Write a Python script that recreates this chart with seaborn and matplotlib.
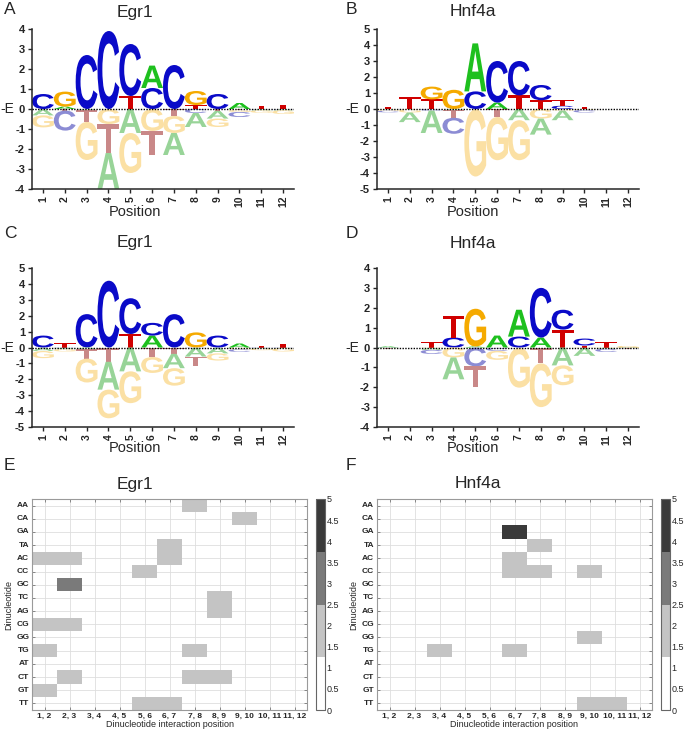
import numpy as np
import pandas as pd
import matplotlib
matplotlib.use("Agg")
import matplotlib.pyplot as plt
import matplotlib.transforms as mtransforms
from matplotlib.textpath import TextPath
from matplotlib.patches import PathPatch
from matplotlib.font_manager import FontProperties
from matplotlib.colors import ListedColormap
import seaborn as sns

positions = list(range(1, 13))

# energy logo values, signed: > 0 stacks above the line, < 0 stacks below
# A - Egr1
a_A = [-0.30, 0.12, -0.05, -1.80, -1.20, 1.12, -1.10, -0.70, -0.38, 0.30, -0.05, -0.05]
a_C = [0.75, -1.00, 2.70, 3.90, 2.60, 1.05, 2.20, -0.20, 0.75, -0.25, -0.02, -0.02]
a_G = [-0.60, 0.75, -1.90, -0.75, -2.00, -1.10, -0.85, 0.70, -0.42, -0.10, -0.12, -0.18]
a_T = [-0.02, -0.08, -0.60, -1.45, 0.65, -1.20, -0.35, 0.20, -0.10, -0.05, 0.15, 0.22]
# B - Hnf4a
b_A = [-0.03, -0.60, -1.40, -0.05, 3.00, 0.40, -0.70, -1.00, -0.60, -0.02, 0, 0]
b_C = [-0.10, -0.02, -0.10, -1.00, 1.10, 2.60, 2.15, 0.95, 0.20, -0.15, 0, 0]
b_G = [-0.08, -0.20, 0.80, 1.20, -4.20, -2.70, -2.50, -0.60, -0.10, -0.05, 0, 0]
b_T = [0.15, 0.75, 0.60, -0.50, -0.02, -0.50, 0.85, 0.55, 0.35, 0.15, 0, 0]
# C - Egr1
c_A = [-0.20, -0.08, -0.10, -1.75, -1.50, 0.75, -0.90, -0.55, -0.35, 0.25, -0.05, -0.03]
c_C = [0.75, -0.02, 2.10, 4.20, 2.25, 0.80, 2.10, -0.02, 0.75, -0.15, -0.02, -0.02]
c_G = [-0.45, -0.15, -1.50, -1.80, -2.00, -1.00, -1.10, 0.95, -0.45, -0.10, -0.10, -0.20]
c_T = [-0.02, 0.30, -0.60, -0.90, 0.85, -0.60, -0.40, -0.60, -0.02, -0.02, 0.12, 0.25]
# D - Hnf4a
d_A = [0.05, 0, -0.10, -1.10, 0.05, 0.60, 1.35, 0.50, -0.90, -0.40, -0.05, -0.02]
d_C = [-0.02, 0, -0.20, 0.50, -0.95, -0.15, 0.55, 2.50, 1.00, 0.35, -0.15, -0.02]
d_G = [-0.02, 0, -0.02, -0.50, 1.90, -0.45, -2.00, -2.20, -1.00, -0.02, -0.02, 0.05]
d_T = [-0.02, 0, 0.30, 1.10, -1.05, -0.02, -0.02, -0.80, 0.90, 0.10, 0.30, -0.02]

# dinucleotide heatmaps (sparse: row label, column index, value)
dinucs = ["AA", "CA", "GA", "TA", "AC", "CC", "GC", "TC",
          "AG", "CG", "GG", "TG", "AT", "CT", "GT", "TT"]
pair_labels = [f"{i}, {i + 1}" for i in range(1, 12)]
egr1_rows = ["AA", "CA", "TA", "AC", "AC", "AC", "CC", "GC", "TC", "AG", "CG", "CG",
             "TG", "TG", "CT", "CT", "CT", "GT", "TT", "TT"]
egr1_cols = [6, 8, 5, 0, 1, 5, 4, 1, 7, 7, 0, 1, 0, 6, 1, 6, 7, 0, 4, 5]
egr1_vals = [2, 2, 2, 2, 2, 2, 2, 3, 2, 2, 2, 2, 2, 2, 2, 2, 2, 2, 2, 2]
hnf_rows = ["GA", "TA", "AC", "CC", "CC", "CC", "GG", "TG", "TG", "TT", "TT"]
hnf_cols = [5, 6, 5, 5, 6, 8, 8, 2, 5, 8, 9]
hnf_vals = [4.5, 2, 2, 2, 2, 2, 2, 2, 2, 2, 2]

sns.set_style("ticks")
plt.rcParams["font.family"] = ["Liberation Sans", "DejaVu Sans"]

strong = {"A": "#1ec01e", "C": "#0a0ac8", "G": "#f5aa00", "T": "#d00000"}
pale = {"A": "#98d498", "C": "#8c8cd4", "G": "#fbe0a4", "T": "#c98888"}
glyph_font = FontProperties(family="Liberation Sans", weight="bold")


def draw_letter(ax, ch, x, y0, h, color, width=1.0):
    tp = TextPath((0, 0), ch, size=1, prop=glyph_font)
    bb = tp.get_extents()
    t = (mtransforms.Affine2D().translate(-bb.x0, -bb.y0)
         .scale(width / bb.width, h / bb.height).translate(x - width / 2, y0))
    ax.add_patch(PathPatch(t.transform_path(tp), fc=color, ec="none", lw=0))


def logo(ax, vals, lim):
    for i, x in enumerate(positions):
        col = {k: v[i] for k, v in vals.items()}
        up = sorted([(v, k) for k, v in col.items() if v > 0.004])
        down = sorted([(-v, k) for k, v in col.items() if v < -0.004])
        y = 0
        for h, k in up:
            draw_letter(ax, k, x, y, h, strong[k])
            y += h
        y = 0
        for h, k in down:
            draw_letter(ax, k, x, y - h, h, pale[k])
            y -= h
    ax.axhline(0, color="k", ls=(0, (1, 1)), lw=1.0, zorder=3)
    ax.set_xlim(0.5, 12.5)
    ax.set_ylim(-lim, lim)
    ax.set_xticks(positions)
    ax.set_xticklabels([str(p) for p in positions], rotation=90, fontsize=7.5, fontweight="bold")
    ax.set_yticks(range(-lim, lim + 1))
    ax.set_yticklabels([str(v) for v in range(-lim, lim + 1)], fontsize=8, fontweight="bold")
    ax.tick_params(length=3, width=1, pad=2)
    sns.despine(ax=ax)
    for s in ("left", "bottom"):
        ax.spines[s].set_linewidth(1.1)
    ax.set_ylabel("-E", rotation=0, fontsize=10, va="center", ha="left")
    ax.yaxis.set_label_coords(-0.12, 0.5)


heat_cmap = ListedColormap(["#ffffff", "#c4c4c4", "#7a7a7a", "#3a3a3a"])


def heat(ax, cax, rows, cols, vals):
    mat = np.zeros((len(dinucs), len(pair_labels)))
    for r, c, v in zip(rows, cols, vals):
        mat[dinucs.index(r), c] = v
    df = pd.DataFrame(mat, index=dinucs, columns=pair_labels)
    sns.heatmap(df, ax=ax, cbar_ax=cax, cmap=heat_cmap, vmin=0, vmax=5,
                mask=(mat == 0), linewidths=0, xticklabels=True, yticklabels=True)
    ax.set_axisbelow(True)
    ax.grid(True, color="#dedede", lw=0.6)
    ax.set_xticklabels(pair_labels, rotation=0, fontsize=6, fontweight="bold")
    ax.set_yticklabels(dinucs, rotation=0, fontsize=6, fontweight="bold")
    ax.tick_params(direction="in", length=2.5, width=0.6, top=True, right=True,
                   labeltop=False, labelright=False, pad=2, color="#777777")
    for s in ax.spines.values():
        s.set_visible(True)
        s.set_color("#9a9a9a")
        s.set_linewidth(0.8)
    ax.set_xlabel("Dinucleotide interaction position", fontsize=6.5, labelpad=0)
    ax.set_ylabel("Dinucleotide", fontsize=6.5, labelpad=2)
    cbar = ax.collections[0].colorbar
    ticks = np.arange(0, 5.01, 0.5)
    cbar.set_ticks(ticks)
    cbar.set_ticklabels([f"{t:g}" for t in ticks])
    cbar.ax.tick_params(direction="in", length=2.5, width=0.6, labelsize=6.5, pad=1)
    cbar.outline.set_linewidth(0.8)
    cbar.outline.set_edgecolor("#666666")


W, H = 685, 733
fig = plt.figure(figsize=(W / 100, H / 100), dpi=100)


def box(x0, y0, x1, y1):
    return [x0 / W, 1 - y1 / H, (x1 - x0) / W, (y1 - y0) / H]


ax_a = fig.add_axes(box(32, 29, 294, 189))
ax_b = fig.add_axes(box(377, 29, 639, 189))
ax_c = fig.add_axes(box(32, 268, 294, 427))
ax_d = fig.add_axes(box(377, 268, 639, 427))
logo(ax_a, {"A": a_A, "C": a_C, "G": a_G, "T": a_T}, 4)
logo(ax_b, {"A": b_A, "C": b_C, "G": b_G, "T": b_T}, 5)
logo(ax_c, {"A": c_A, "C": c_C, "G": c_G, "T": c_T}, 5)
logo(ax_d, {"A": d_A, "C": d_C, "G": d_G, "T": d_T}, 4)

ax_e = fig.add_axes(box(32, 499, 307, 710))
cax_e = fig.add_axes(box(316, 499, 325, 710))
ax_f = fig.add_axes(box(377, 499, 652, 710))
cax_f = fig.add_axes(box(661, 499, 670, 710))
heat(ax_e, cax_e, egr1_rows, egr1_cols, egr1_vals)
heat(ax_f, cax_f, hnf_rows, hnf_cols, hnf_vals)

# titles, panel letters and x labels
for txt, x, y in [("Egr1", 135, 12), ("Hnf4a", 473, 12), ("Egr1", 135, 243),
                  ("Hnf4a", 473, 243), ("Egr1", 135, 484), ("Hnf4a", 478, 484)]:
    fig.text(x / W, 1 - y / H, txt, fontsize=12.5, ha="center", va="center")
for txt, x, y in [("A", 4, 10), ("B", 346, 10), ("C", 4, 234),
                  ("D", 346, 234), ("E", 4, 466), ("F", 346, 466)]:
    fig.text(x / W, 1 - y / H, txt, fontsize=12.5, ha="left", va="center")
for x, y in [(135, 212), (473, 212), (135, 448), (473, 448)]:
    fig.text(x / W, 1 - y / H, "Position", fontsize=10.5, ha="center", va="center")

fig.savefig("out.png", dpi=100)
